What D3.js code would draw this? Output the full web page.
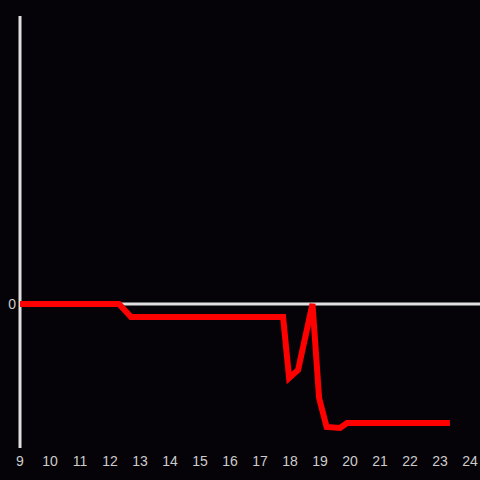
<!DOCTYPE html>
<html><head><meta charset="utf-8">
<script src="https://cdn.jsdelivr.net/npm/d3@7"></script>
<style>html,body{margin:0;padding:0;background:#050307;}svg{display:block;}</style>
</head><body>
<svg id="c" width="480" height="480"></svg>
<script>
const xs = [9, 12.3, 12.7, 17.77, 17.97, 18.27, 18.75, 18.97, 19.22, 19.67, 19.9, 23.33];
const ys = [0, 0, -13, -13, -74, -66, 0, -94, -123, -124, -119, -119];
const xTicks = [9,10,11,12,13,14,15,16,17,18,19,20,21,22,23,24];
const yTicks = [0];

const svg = d3.select('#c');
svg.append('rect').attr('width',480).attr('height',480).attr('fill','#050307');
const x = d3.scaleLinear().domain([9,24]).range([20,470]);
const y = d3.scaleLinear().domain([-144,288]).range([448,16]);

// zero line
svg.append('line').attr('x1',x(9)).attr('x2',480).attr('y1',y(0)).attr('y2',y(0))
  .attr('stroke','#e0e0e0').attr('stroke-width',3);
// y axis line
svg.append('line').attr('x1',x(9)).attr('x2',x(9)).attr('y1',y(288)).attr('y2',y(-144))
  .attr('stroke','#e0e0e0').attr('stroke-width',3);

svg.selectAll('text.xt').data(xTicks).enter().append('text')
  .attr('x',d=>x(d)).attr('y',466).attr('text-anchor','middle')
  .attr('font-family','Liberation Sans, Arial, sans-serif').attr('font-size',14)
  .attr('fill','#cccccc').text(d=>d);
svg.selectAll('text.yt').data(yTicks).enter().append('text')
  .attr('x',16).attr('y',d=>y(d)).attr('dy','0.35em').attr('text-anchor','end')
  .attr('font-family','Liberation Sans, Arial, sans-serif').attr('font-size',14)
  .attr('fill','#cccccc').text(d=>d);

const pts = xs.map((d,i)=>[d, ys[i]]);
svg.append('path').datum(pts)
  .attr('d', d3.line().x(d=>x(d[0])).y(d=>y(d[1])))
  .attr('fill','none').attr('stroke','#ff0000').attr('stroke-width',6)
  .attr('stroke-linejoin','miter');
</script>
</body></html>
